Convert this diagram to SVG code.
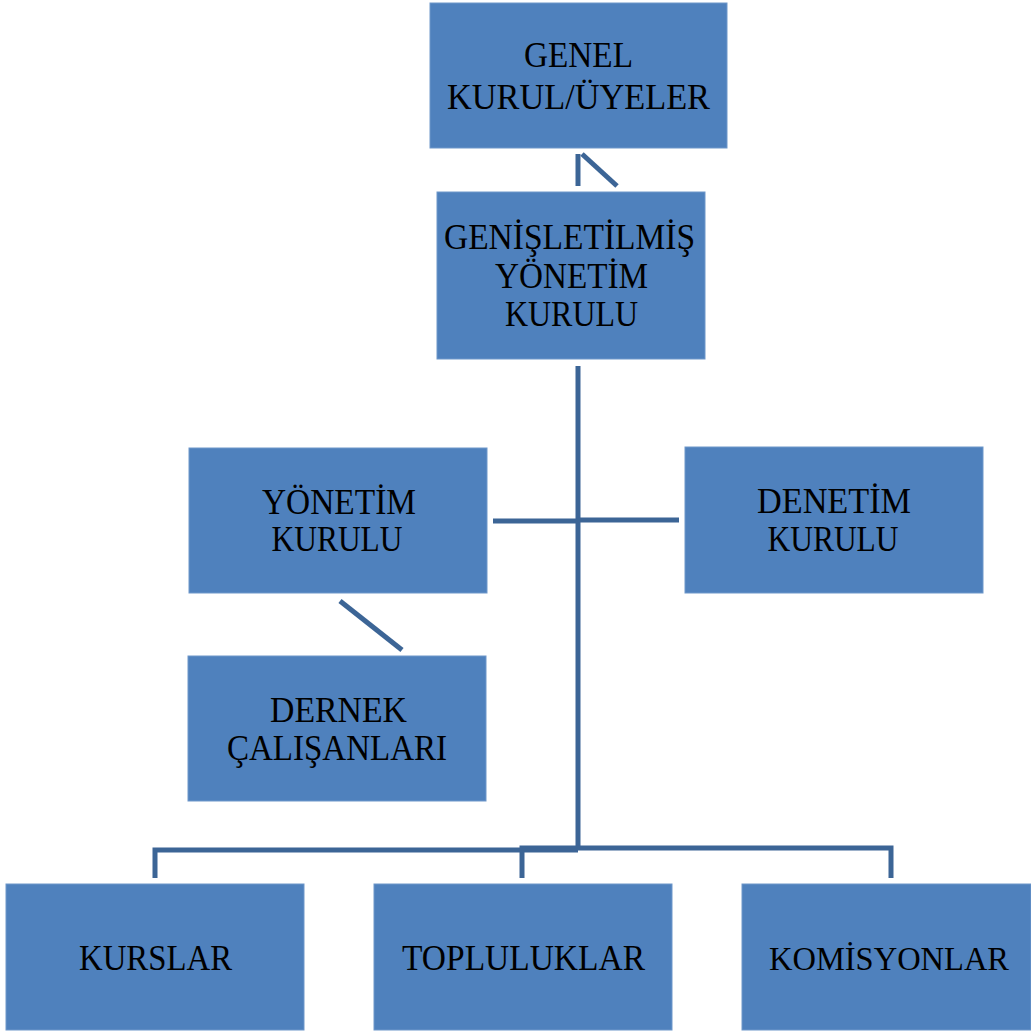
<svg xmlns="http://www.w3.org/2000/svg" width="1031" height="1032" viewBox="0 0 1031 1032">
<style>
.box{fill:#4F81BD;stroke:#6E97CA;stroke-width:1}
.t{font-family:"Liberation Serif","Times New Roman",serif;font-size:36px;fill:#000;text-anchor:middle}
.c{fill:none;stroke:#3C6596;stroke-width:5;stroke-linejoin:miter}
</style>
<rect width="1031" height="1032" fill="#fff"/>
<g id="connectors">
<path class="c" d="M578 154 V186"/>
<path class="c" d="M582 154 L617 186"/>
<path class="c" d="M578 366 V850"/>
<path class="c" d="M493 521 H578"/>
<path class="c" d="M578 520 H679"/>
<path class="c" d="M340 601 L402 650"/>
<path class="c" d="M155 878 V850 H578"/>
<path class="c" d="M522 878 V848 H891 V878"/>
</g>
<g id="genel-kurul">
<rect class="box" x="430" y="3" width="297" height="145"/>
<text class="t" x="578.5" y="67" textLength="109" lengthAdjust="spacingAndGlyphs">GENEL</text>
<text class="t" x="578.5" y="109" textLength="263" lengthAdjust="spacingAndGlyphs">KURUL/ÜYELER</text>
</g>
<g id="genisletilmis-yonetim-kurulu">
<rect class="box" x="437" y="192" width="268" height="167"/>
<text class="t" x="569.5" y="249" textLength="251" lengthAdjust="spacingAndGlyphs">GENİŞLETİLMİŞ</text>
<text class="t" x="571.5" y="288" textLength="153" lengthAdjust="spacingAndGlyphs">YÖNETİM</text>
<text class="t" x="571.5" y="326" textLength="133" lengthAdjust="spacingAndGlyphs">KURULU</text>
</g>
<g id="yonetim-kurulu">
<rect class="box" x="189" y="448" width="298" height="145"/>
<text class="t" x="339" y="514" textLength="154" lengthAdjust="spacingAndGlyphs">YÖNETİM</text>
<text class="t" x="337" y="551" textLength="131" lengthAdjust="spacingAndGlyphs">KURULU</text>
</g>
<g id="denetim-kurulu">
<rect class="box" x="685" y="447" width="298" height="146"/>
<text class="t" x="834" y="513" textLength="154" lengthAdjust="spacingAndGlyphs">DENETİM</text>
<text class="t" x="833" y="551" textLength="131" lengthAdjust="spacingAndGlyphs">KURULU</text>
</g>
<g id="dernek-calisanlari">
<rect class="box" x="188" y="656" width="298" height="145"/>
<text class="t" x="338.5" y="722" textLength="137" lengthAdjust="spacingAndGlyphs">DERNEK</text>
<text class="t" x="337" y="760" textLength="220" lengthAdjust="spacingAndGlyphs">ÇALIŞANLARI</text>
</g>
<g id="kurslar">
<rect class="box" x="6" y="884" width="298" height="146"/>
<text class="t" x="155.5" y="970" textLength="153" lengthAdjust="spacingAndGlyphs">KURSLAR</text>
</g>
<g id="topluluklar">
<rect class="box" x="374" y="884" width="298" height="146"/>
<text class="t" x="523.5" y="970" textLength="243" lengthAdjust="spacingAndGlyphs">TOPLULUKLAR</text>
</g>
<g id="komisyonlar">
<rect class="box" x="742" y="884" width="289" height="146"/>
<text class="t" x="889" y="970" style="font-size:33px" textLength="240" lengthAdjust="spacingAndGlyphs">KOMİSYONLAR</text>
</g>
</svg>
